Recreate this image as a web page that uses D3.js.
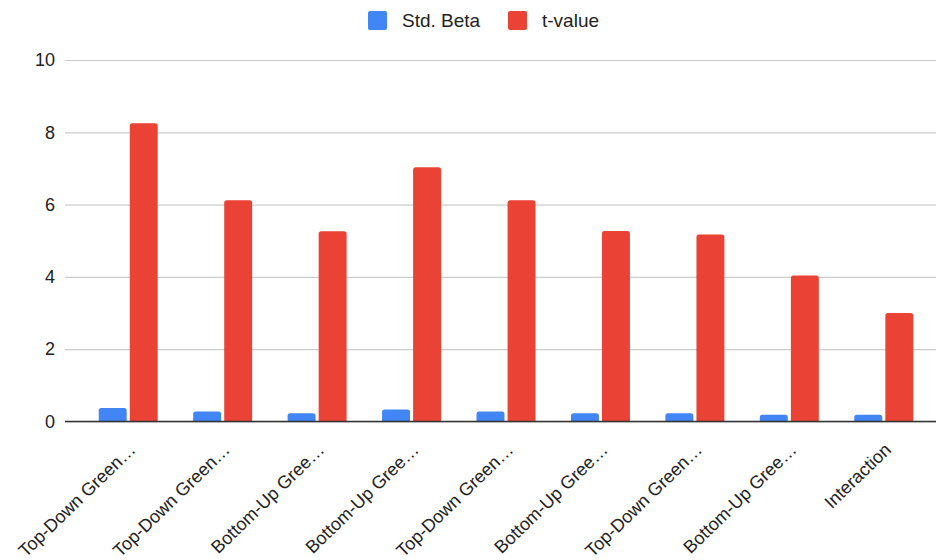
<!DOCTYPE html>
<html>
<head>
<meta charset="utf-8">
<script src="https://cdn.jsdelivr.net/npm/d3@7"></script>
<style>
  html, body { margin: 0; padding: 0; background: #fff; }
  svg { display: block; font-family: "Liberation Sans", Arial, sans-serif; }
</style>
</head>
<body>
<svg id="chart" width="936" height="560"></svg>
<script>
// Regression predictors (labels as truncated on the axis)
const categories = [
  "Top-Down Green…",
  "Top-Down Green…",
  "Bottom-Up Gree…",
  "Bottom-Up Gree…",
  "Top-Down Green…",
  "Bottom-Up Gree…",
  "Top-Down Green…",
  "Bottom-Up Gree…",
  "Interaction"
];
const seriesNames = ["Std. Beta", "t-value"];
const stdBeta = [0.37, 0.28, 0.23, 0.33, 0.28, 0.23, 0.23, 0.19, 0.19];
const tValue  = [8.25, 6.12, 5.26, 7.03, 6.12, 5.27, 5.17, 4.04, 3.00];
const yTicks = [0, 2, 4, 6, 8, 10];
const colors = ["#4285F4", "#EA4335"];

const svg = d3.select("#chart");
const plotLeft = 65, plotRight = 936, plotTop = 60, plotBottom = 421.5;

const x = d3.scaleBand()
  .domain(d3.range(categories.length))
  .range([81, 931])
  .paddingInner(0)
  .paddingOuter(0);

const groupWidth = 59;
const xs = d3.scaleBand()
  .domain(seriesNames)
  .range([-groupWidth / 2, groupWidth / 2])
  .paddingInner(0.1);

const y = d3.scaleLinear().domain([0, 10]).range([plotBottom, plotTop]);

// Gridlines and y tick labels
const yAxis = d3.axisLeft(y)
  .tickValues(yTicks)
  .tickSize(-(plotRight - plotLeft))
  .tickPadding(10)
  .tickFormat(d3.format("d"));

const gy = svg.append("g")
  .attr("transform", `translate(${plotLeft},0)`)
  .call(yAxis);
gy.select(".domain").remove();
gy.selectAll(".tick line").attr("stroke", "#cccccc").attr("stroke-width", 1.2);
gy.selectAll(".tick text")
  .attr("fill", "#222")
  .attr("font-size", 18)
  .attr("x", -10);

// Bars
const rows = categories.map((c, i) => ({ i, values: [stdBeta[i], tValue[i]] }));
const groups = svg.append("g").selectAll("g")
  .data(rows)
  .join("g")
  .attr("transform", d => `translate(${x(d.i) + x.bandwidth() / 2},0)`);

groups.selectAll("path")
  .data(d => d.values.map((v, k) => ({ v, k })))
  .join("path")
  .attr("fill", d => colors[d.k])
  .attr("d", d => {
    const x0 = xs(seriesNames[d.k]);
    const w = xs.bandwidth();
    const top = y(d.v), bottom = y(0);
    const r = Math.min(2.5, (bottom - top) / 2);
    return `M${x0},${bottom}V${top + r}Q${x0},${top} ${x0 + r},${top}H${x0 + w - r}Q${x0 + w},${top} ${x0 + w},${top + r}V${bottom}Z`;
  });

// Baseline
svg.append("line")
  .attr("x1", plotLeft).attr("x2", plotRight)
  .attr("y1", y(0)).attr("y2", y(0))
  .attr("stroke", "#333").attr("stroke-width", 1.5);

// Slanted category labels
const xAxis = d3.axisBottom(x)
  .tickFormat(i => categories[i])
  .tickSize(0);
const gx = svg.append("g")
  .attr("transform", `translate(0,${plotBottom})`)
  .call(xAxis);
gx.select(".domain").remove();
gx.selectAll(".tick text")
  .attr("fill", "#222")
  .attr("font-size", 18)
  .attr("text-anchor", "end")
  .attr("dy", "0.35em")
  .attr("transform", "translate(4,25) rotate(-44)")
  .attr("y", 0)
  .attr("x", 0);

// Legend
const legend = svg.append("g").attr("transform", "translate(368,11)");
const legendX = [0, 140];
seriesNames.forEach((name, k) => {
  const g = legend.append("g").attr("transform", `translate(${legendX[k]},0)`);
  g.append("rect")
    .attr("width", 19).attr("height", 19).attr("rx", 2)
    .attr("fill", colors[k]);
  g.append("text")
    .attr("x", 34).attr("y", 16)
    .attr("font-size", 19)
    .attr("fill", "#222")
    .text(name);
});
</script>
</body>
</html>
